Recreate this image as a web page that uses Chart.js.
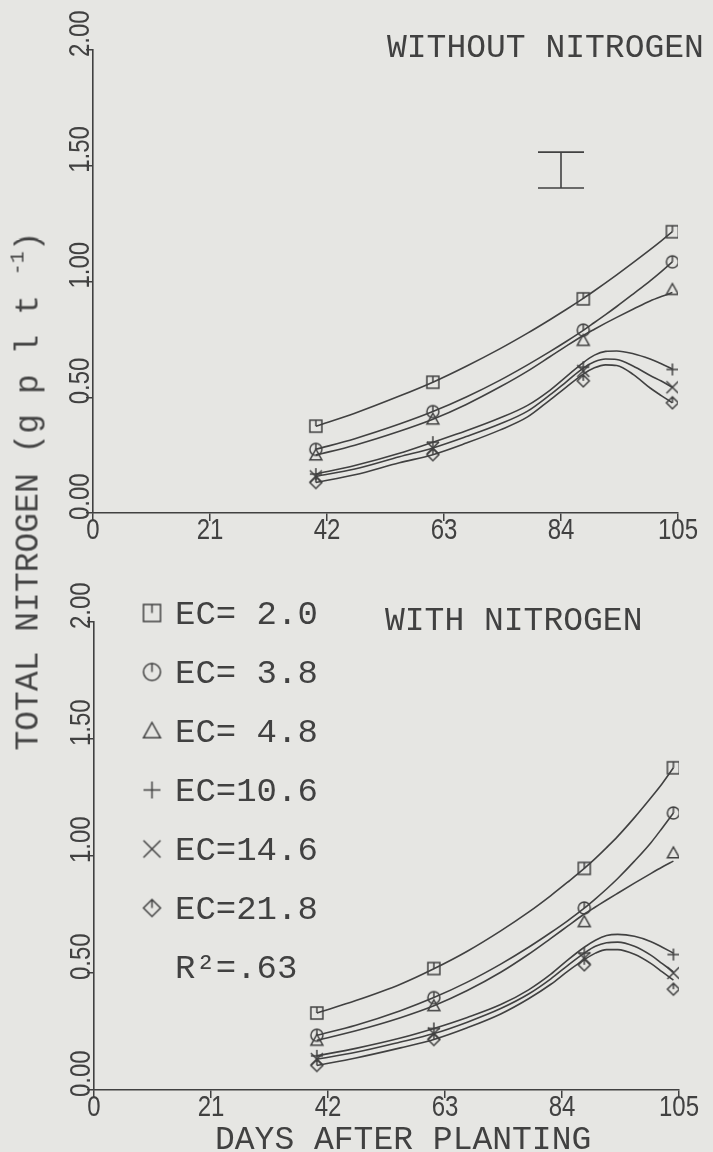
<!DOCTYPE html>
<html>
<head>
<meta charset="utf-8">
<script src="https://cdn.jsdelivr.net/npm/chart.js@4.4.1/dist/chart.umd.min.js"></script>
<style>
html, body { margin: 0; padding: 0; background: #e6e6e3; }
#wrap { position: relative; width: 713px; height: 1152px; overflow: hidden; }
canvas { position: absolute; left: 0; }
#top { top: 0; }
#bottom { top: 576px; }
#ytitle {
    position: absolute; left: 27px; top: 491px;
    transform: translate(-50%, -50%) rotate(-90deg);
    white-space: nowrap; line-height: 1;
    font-family: "Liberation Mono", "DejaVu Sans Mono", monospace;
    font-size: 33px; color: #444;
}
#ytitle span { font-size: 20px; vertical-align: 14px; }
</style>
</head>
<body>
<div id="wrap">
    <canvas id="top" width="713" height="576"></canvas>
    <canvas id="bottom" width="713" height="576"></canvas>
    <div id="ytitle">TOTAL NITROGEN (g p l t <span>-1</span>)</div>
</div>
<script>
// sampling days and days used to trace the fitted curves
const markerDays = [40, 61, 88, 104];
const curveDays = [40, 47, 55, 61, 67, 73, 78, 82, 85, 88, 90, 92, 94, 97, 100, 102, 104];

const ecLabels = ['EC= 2.0', 'EC= 3.8', 'EC= 4.8', 'EC=10.6', 'EC=14.6', 'EC=21.8'];
const r2Label = 'R\u00b2=.63';
const topTitle = 'WITHOUT NITROGEN';
const bottomTitle = 'WITH NITROGEN';
const xTitle = 'DAYS AFTER PLANTING';

// WITHOUT NITROGEN - measured points
const topEC20 = [0.375, 0.565, 0.925, 1.215];
const topEC38 = [0.275, 0.438, 0.79, 1.085];
const topEC48 = [0.25, 0.405, 0.745, 0.965];
const topEC106 = [0.168, 0.306, 0.63, 0.62];
const topEC146 = [0.158, 0.281, 0.614, 0.543];
const topEC218 = [0.132, 0.252, 0.571, 0.476];

// WITHOUT NITROGEN - fitted curves (read at curveDays)
const topFit20 = [0.375, 0.431, 0.505, 0.565, 0.634, 0.709, 0.777, 0.835, 0.88, 0.927, 0.96, 0.994, 1.029, 1.083, 1.138, 1.176, 1.215];
const topFit38 = [0.275, 0.321, 0.384, 0.438, 0.501, 0.573, 0.64, 0.697, 0.742, 0.789, 0.823, 0.857, 0.892, 0.947, 1.003, 1.043, 1.085];
const topFit48 = [0.25, 0.293, 0.353, 0.405, 0.469, 0.544, 0.613, 0.675, 0.722, 0.767, 0.794, 0.82, 0.845, 0.881, 0.916, 0.935, 0.952];
const topFit106 = [0.168, 0.205, 0.258, 0.306, 0.355, 0.41, 0.465, 0.53, 0.59, 0.65, 0.682, 0.698, 0.70, 0.688, 0.665, 0.645, 0.622];
const topFit146 = [0.158, 0.19, 0.243, 0.281, 0.33, 0.384, 0.44, 0.51, 0.568, 0.626, 0.653, 0.665, 0.663, 0.634, 0.594, 0.57, 0.543];
const topFit218 = [0.132, 0.165, 0.217, 0.252, 0.302, 0.358, 0.415, 0.488, 0.545, 0.60, 0.627, 0.64, 0.637, 0.598, 0.54, 0.507, 0.476];

// WITH NITROGEN - measured points
const botEC20 = [0.329, 0.519, 0.947, 1.377];
const botEC38 = [0.234, 0.395, 0.778, 1.184];
const botEC48 = [0.212, 0.36, 0.719, 1.013];
const botEC106 = [0.146, 0.263, 0.585, 0.579];
const botEC146 = [0.132, 0.241, 0.563, 0.50];
const botEC218 = [0.105, 0.216, 0.535, 0.431];

// WITH NITROGEN - fitted curves
const botFit20 = [0.329, 0.382, 0.452, 0.518, 0.593, 0.68, 0.76, 0.831, 0.888, 0.947, 0.99, 1.036, 1.084, 1.164, 1.25, 1.31, 1.377];
const botFit38 = [0.234, 0.277, 0.339, 0.395, 0.461, 0.538, 0.61, 0.673, 0.723, 0.777, 0.817, 0.859, 0.904, 0.978, 1.058, 1.12, 1.184];
const botFit48 = [0.212, 0.253, 0.309, 0.36, 0.425, 0.503, 0.58, 0.648, 0.70, 0.752, 0.782, 0.812, 0.841, 0.884, 0.926, 0.953, 0.978];
const botFit106 = [0.146, 0.178, 0.222, 0.263, 0.31, 0.365, 0.428, 0.495, 0.555, 0.61, 0.64, 0.66, 0.665, 0.657, 0.634, 0.61, 0.585];
const botFit146 = [0.132, 0.161, 0.205, 0.241, 0.29, 0.348, 0.41, 0.475, 0.532, 0.585, 0.614, 0.629, 0.632, 0.614, 0.575, 0.54, 0.505];
const botFit218 = [0.105, 0.137, 0.18, 0.216, 0.266, 0.325, 0.39, 0.452, 0.507, 0.557, 0.585, 0.60, 0.60, 0.58, 0.54, 0.505, 0.47];

// LSD bar in the top panel
const errDay = 84;
const errLow = 1.404;
const errHigh = 1.559;

const INK = '#414141';
const FONT = '"Liberation Mono", "DejaVu Sans Mono", monospace';
const TICKFONT = '"Liberation Sans", "DejaVu Sans", sans-serif';
const kinds = ['square', 'circle', 'triangle', 'plus', 'cross', 'diamond'];

// plotter-like marker glyphs
function symbol(kind, s) {
    const c = document.createElement('canvas');
    c.width = c.height = s + 4;
    const g = c.getContext('2d');
    const m = (s + 4) / 2, r = s / 2;
    g.strokeStyle = INK;
    g.lineWidth = 1.5;
    g.beginPath();
    if (kind === 'square') {
        g.rect(m - r, m - r, s, s);
        g.moveTo(m, m - r); g.lineTo(m, m);
    } else if (kind === 'circle') {
        g.arc(m, m, r, 0, Math.PI * 2);
        g.moveTo(m, m - r); g.lineTo(m, m);
    } else if (kind === 'triangle') {
        g.moveTo(m, m - r); g.lineTo(m + r, m + r * 0.8); g.lineTo(m - r, m + r * 0.8); g.closePath();
    } else if (kind === 'plus') {
        g.moveTo(m - r, m); g.lineTo(m + r, m);
        g.moveTo(m, m - r); g.lineTo(m, m + r);
    } else if (kind === 'cross') {
        g.moveTo(m - r, m - r); g.lineTo(m + r, m + r);
        g.moveTo(m + r, m - r); g.lineTo(m - r, m + r);
    } else {
        g.moveTo(m, m - r); g.lineTo(m + r, m); g.lineTo(m, m + r); g.lineTo(m - r, m); g.closePath();
        g.moveTo(m, m - r); g.lineTo(m, m);
    }
    g.stroke();
    return c;
}
const plotSymbols = kinds.map(k => symbol(k, 12));
const legendSymbols = kinds.map(k => symbol(k, 17));

function narrow(ctx, text, x, y, rot, align) {
    ctx.save();
    ctx.translate(x, y);
    ctx.rotate(rot);
    ctx.scale(0.8, 1);
    ctx.textAlign = align;
    ctx.fillText(text, 0, 0);
    ctx.restore();
}

const axisText = {
    id: 'axisText',
    afterDraw(chart) {
        const ctx = chart.ctx;
        const xs = chart.scales.x, ys = chart.scales.y;
        const area = chart.chartArea;
        ctx.save();
        ctx.fillStyle = INK;
        ctx.textBaseline = 'alphabetic';
        ctx.font = '30px ' + TICKFONT;
        ys.ticks.forEach(t => {
            narrow(ctx, t.value.toFixed(2), area.left - 4, ys.getPixelForValue(t.value) + 7, -Math.PI / 2, 'left');
        });
        xs.ticks.forEach(t => {
            narrow(ctx, String(t.value), xs.getPixelForValue(t.value), area.bottom + 26, 0, 'center');
        });
        ctx.restore();
    }
};

const panelText = {
    id: 'panelText',
    afterDraw(chart, args, opts) {
        const ctx = chart.ctx;
        const xs = chart.scales.x, ys = chart.scales.y;
        ctx.save();
        ctx.fillStyle = INK;
        ctx.strokeStyle = INK;
        ctx.textBaseline = 'alphabetic';
        ctx.textAlign = 'left';
        ctx.font = '33px ' + FONT;
        ctx.fillText(opts.title, opts.titleX, opts.titleY);
        if (opts.errorBar) {
            const x = xs.getPixelForValue(errDay);
            const y1 = ys.getPixelForValue(errLow), y2 = ys.getPixelForValue(errHigh);
            ctx.lineWidth = 1.6;
            ctx.beginPath();
            ctx.moveTo(x, y1); ctx.lineTo(x, y2);
            ctx.moveTo(x - 23, y1); ctx.lineTo(x + 23, y1);
            ctx.moveTo(x - 23, y2); ctx.lineTo(x + 23, y2);
            ctx.stroke();
        }
        if (opts.legend) {
            ctx.font = '34px ' + FONT;
            ecLabels.forEach((lab, i) => {
                const cy = 37 + i * 59;
                const img = legendSymbols[i];
                ctx.drawImage(img, 152 - img.width / 2, cy - img.height / 2);
                ctx.fillText(lab, 175, cy + 11);
            });
            ctx.fillText(r2Label, 175, 37 + 6 * 59 + 11);
            ctx.font = '33px ' + FONT;
            ctx.fillText(xTitle, 215, 573);
        }
        ctx.restore();
    }
};

function panel(id, markers, fits, lay, textOpts) {
    const datasets = [];
    fits.forEach(f => datasets.push({
        type: 'line',
        data: curveDays.map((d, i) => ({x: d, y: f[i]})),
        borderColor: INK,
        borderWidth: 1.6,
        pointRadius: 0,
        cubicInterpolationMode: 'monotone',
        fill: false
    }));
    markers.forEach((m, k) => datasets.push({
        type: 'scatter',
        data: markerDays.map((d, i) => ({x: d, y: m[i]})),
        pointStyle: plotSymbols[k],
        pointRadius: 6,
        showLine: false
    }));
    const gridOpts = (len) => ({
        drawOnChartArea: false,
        drawTicks: true,
        tickLength: len,
        color: INK,
        lineWidth: 1.5
    });
    return new Chart(document.getElementById(id), {
        type: 'scatter',
        data: {datasets},
        plugins: [axisText, panelText],
        options: {
            responsive: false,
            animation: false,
            layout: {
                padding: {left: 0, right: lay.right, top: lay.top, bottom: 0},
                autoPadding: false
            },
            plugins: {
                legend: {display: false},
                tooltip: {enabled: false},
                panelText: textOpts
            },
            scales: {
                x: {
                    type: 'linear',
                    min: 0,
                    max: 105,
                    afterFit: s => { s.height = lay.xh; },
                    ticks: {stepSize: 21, display: false},
                    grid: gridOpts(8),
                    border: {color: INK, width: 1.6}
                },
                y: {
                    type: 'linear',
                    min: 0,
                    max: 2,
                    afterFit: s => { s.width = lay.yw; },
                    ticks: {stepSize: 0.5, display: false},
                    grid: gridOpts(7),
                    border: {color: INK, width: 1.6}
                }
            }
        }
    });
}

panel('top',
    [topEC20, topEC38, topEC48, topEC106, topEC146, topEC218],
    [topFit20, topFit38, topFit48, topFit106, topFit146, topFit218],
    {right: 35, top: 50, xh: 63, yw: 93},
    {title: topTitle, titleX: 387, titleY: 57, errorBar: true, legend: false});

panel('bottom',
    [botEC20, botEC38, botEC48, botEC106, botEC146, botEC218],
    [botFit20, botFit38, botFit48, botFit106, botFit146, botFit218],
    {right: 34, top: 46, xh: 62, yw: 94},
    {title: bottomTitle, titleX: 385, titleY: 54, errorBar: false, legend: true});
</script>
</body>
</html>
